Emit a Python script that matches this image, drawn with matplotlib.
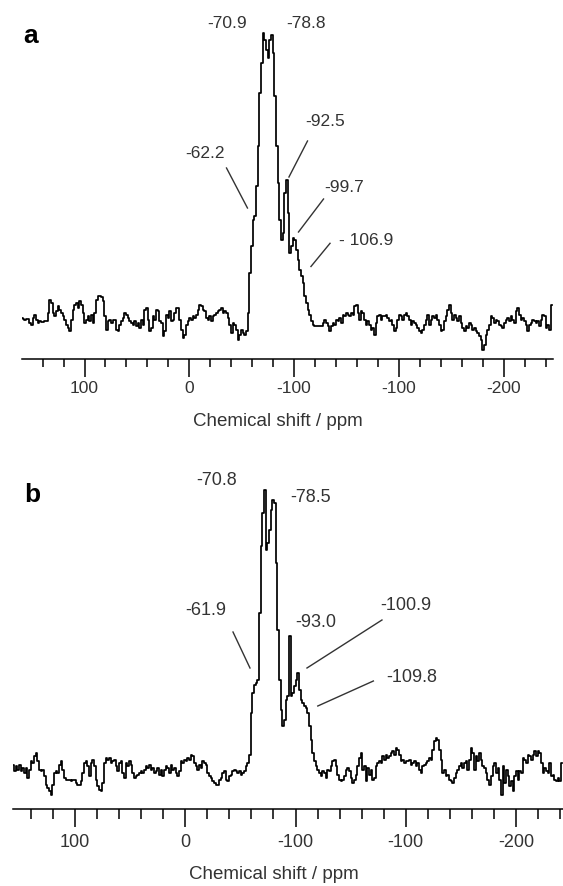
import numpy as np
import matplotlib
matplotlib.use("Agg")
import matplotlib.pyplot as plt
from matplotlib.ticker import FixedLocator, FixedFormatter

plt.rcParams['font.family'] = ['Liberation Sans', 'DejaVu Sans']

# axis ticks (ppm) and the labels exactly as printed on the original axis
major_ticks = [100, 0, -100, -200, -300]
major_labels = ["100", "0", "-100", "-100", "-200"]
minor_ticks = [140, 120, 80, 60, 40, 20, -20, -40, -60, -80, -120, -140, -160, -180,
               -220, -240, -260, -280, -320, -340]

# spectrum a: first/last chemical shift of the trace and the intensity
shift_span_a = (159.95, -345.8)
intensity_a = [
    41, 40, 39, 40, 40, 36, 34, 41, 44, 39,
    36, 38, 37, 37, 38, 38, 46, 59, 56, 46,
    43, 48, 53, 49, 46, 43, 39, 34, 31, 28,
    39, 49, 54, 56, 51, 58, 54, 46, 36, 39,
    43, 38, 44, 36, 46, 59, 63, 63, 62, 58,
    43, 29, 38, 39, 36, 39, 39, 29, 28, 34,
    38, 41, 46, 44, 41, 38, 36, 34, 38, 33,
    36, 31, 39, 34, 49, 51, 39, 28, 31, 43,
    39, 49, 48, 38, 36, 23, 28, 44, 41, 48,
    38, 39, 46, 51, 51, 39, 29, 21, 24, 34,
    38, 41, 39, 43, 41, 44, 49, 54, 53, 49,
    48, 41, 39, 43, 38, 43, 44, 46, 48, 49,
    51, 46, 48, 46, 41, 34, 26, 36, 34, 29,
    19, 24, 29, 26, 24, 28, 46,
    # main resonance
    86, 113, 139, 143, 173, 213, 266, 296, 326, 319,
    309, 301, 319, 324, 306, 263, 213, 176, 139, 119,
    126, 166, 179, 146, 106, 113, 121, 119, 109, 99,
    # right-hand side
    89, 83, 76, 63, 56, 49, 44, 38, 34, 33,
    33, 33, 33, 33, 36, 39, 36, 33, 28, 33,
    36, 34, 39, 38, 41, 36, 44, 43, 46, 44,
    43, 46, 44, 53, 54, 46, 39, 48, 46, 39,
    34, 38, 34, 29, 31, 24, 36, 43, 44, 39,
    43, 43, 44, 41, 38, 39, 34, 28, 31, 39,
    44, 43, 39, 44, 46, 43, 39, 34, 38, 36,
    34, 31, 28, 26, 29, 34, 39, 44, 34, 39,
    43, 41, 44, 39, 34, 28, 29, 38, 43, 49,
    54, 46, 39, 44, 41, 38, 43, 36, 31, 28,
    33, 31, 36, 34, 29, 31, 28, 26, 23, 19,
    9, 14, 24, 29, 34, 43, 41, 36, 39, 38,
    34, 33, 31, 36, 39, 41, 38, 43, 39, 36,
    48, 51, 44, 39, 41, 38, 34, 28, 34, 36,
    39, 38, 36, 38, 33, 39, 44, 43, 31, 34,
    29, 54,
]
peak_labels_a = ["-70.9", "-78.8", "-62.2", "-92.5", "-99.7", "- 106.9"]

# spectrum b
shift_span_b = (157.5, -341.4)
intensity_b = [
    39, 44, 38, 43, 39, 44, 38, 41, 36, 41,
    31, 39, 48, 46, 53, 56, 48, 39, 38, 39,
    33, 24, 21, 18, 14, 24, 36, 38, 36, 44,
    48, 39, 31, 29, 29, 29, 28, 29, 29, 26,
    24, 24, 28, 36, 46, 48, 43, 33, 46, 49,
    43, 29, 23, 19, 18, 26, 46, 51, 49, 51,
    46, 48, 49, 43, 38, 46, 48, 36, 31, 46,
    43, 48, 44, 36, 31, 33, 34, 36, 38, 36,
    39, 43, 41, 44, 39, 41, 36, 38, 41, 34,
    39, 33, 39, 43, 41, 36, 44, 39, 41, 36,
    33, 38, 48, 46, 49, 48, 51, 49, 54, 53,
    46, 43, 39, 44, 41, 48, 46, 44, 36, 33,
    31, 28, 26, 24, 24, 29, 31, 36, 38, 29,
    28, 33, 34, 38, 39, 38, 36, 38, 34, 36,
    38, 43, 46, 54,
    # main resonance
    96, 116, 124, 126, 129, 196, 263, 296, 319, 259,
    266, 279, 299, 309, 306, 246, 179, 129, 99, 83,
    89, 109, 113, 173, 113, 116, 123, 129, 136, 119,
    109, 106, 103, 101, 96, 83, 69, 56, 48, 43,
    39,
    # right-hand side
    36, 33, 38, 36, 31, 39, 38, 43, 48, 49,
    43, 34, 29, 28, 29, 33, 39, 41, 38, 31,
    26, 29, 34, 43, 51, 56, 39, 43, 28, 41,
    34, 39, 29, 31, 43, 46, 48, 46, 53, 49,
    54, 51, 53, 56, 58, 54, 61, 59, 54, 48,
    49, 46, 48, 48, 49, 44, 46, 48, 43, 46,
    39, 36, 43, 44, 46, 48, 51, 49, 59, 68,
    71, 69, 59, 49, 36, 39, 33, 34, 29, 28,
    26, 31, 36, 39, 43, 46, 41, 46, 48, 39,
    49, 61, 56, 39, 53, 48, 56, 49, 43, 41,
    36, 29, 24, 33, 43, 46, 36, 41, 29, 14,
    43, 26, 39, 33, 23, 28, 18, 33, 38, 29,
    38, 36, 51, 49, 46, 54, 53, 49, 54, 58,
    53, 58, 56, 46, 36, 41, 38, 36, 46, 33,
    34, 29, 28, 31, 28, 46,
]
peak_labels_b = ["-70.8", "-78.5", "-61.9", "-93.0", "-100.9", "-109.8"]

TEXT_COLOR = '#333333'


def style_axis(ax, xlim, ytop, tick_fs, minor_len, pad):
    ax.set_xlim(*xlim)
    ax.set_ylim(0, ytop)
    for side in ['left', 'right', 'top']:
        ax.spines[side].set_visible(False)
    ax.spines['bottom'].set_linewidth(1.1)
    ax.set_yticks([])
    ax.xaxis.set_major_locator(FixedLocator(major_ticks))
    ax.xaxis.set_major_formatter(FixedFormatter(major_labels))
    ax.xaxis.set_minor_locator(FixedLocator(minor_ticks))
    ax.tick_params(axis='x', which='major', direction='out', length=13, width=1.1,
                   labelsize=tick_fs, labelcolor=TEXT_COLOR, pad=pad)
    ax.tick_params(axis='x', which='minor', direction='out', length=minor_len, width=1.1)
    ax.patch.set_alpha(0)


def draw_panel(ax, span, intensity, labels, label_xy, leaders, fs):
    shift = np.linspace(span[0], span[1], len(intensity))
    ax.plot(shift, intensity, color='black', linewidth=1.25, drawstyle='steps-mid')
    for text, (x, y) in zip(labels, label_xy):
        ax.text(x, y, text, ha='center', va='baseline', fontsize=fs, color=TEXT_COLOR)
    for (x0, y0), (x1, y1) in leaders:
        ax.plot([x0, x1], [y0, y1], color=TEXT_COLOR, linewidth=1.0)


def main():
    fig = plt.figure(figsize=(5.63, 8.86), dpi=100)

    # panel a
    ax_a = fig.add_axes([0.03854, 0.59447, 0.94316, 0.37280])
    style_axis(ax_a, (159.95, -346.8), 330.3, 12.5, 5.8, 2.5)
    label_xy_a = [(-36.0, 331.3), (-111.4, 331.3), (-15.0, 201.3),
                  (-129.5, 233.3), (-147.6, 167.3), (-168.6, 114.3)]
    leaders_a = [((-35.5, 191.3), (-55.5, 151.3)),
                 ((-112.8, 218.3), (-95.1, 182.3)),
                 ((-128.1, 160.3), (-104.2, 127.3)),
                 ((-134.3, 116.0), (-116.1, 92.8))]
    draw_panel(ax_a, shift_span_a, intensity_a, peak_labels_a, label_xy_a, leaders_a, 12.5)

    # panel b
    ax_b = fig.add_axes([0.02256, 0.08657, 0.97744, 0.37167])
    style_axis(ax_b, (156.5, -342.6), 329.3, 13, 7.0, 5)
    label_xy_b = [(-28.8, 324.3), (-114.0, 307.3), (-18.8, 194.3),
                  (-118.5, 182.3), (-200.2, 199.3), (-205.7, 127.3)]
    leaders_b = [((-43.3, 177.3), (-58.7, 141.3)),
                 ((-178.4, 189.3), (-110.4, 141.3)),
                 ((-170.6, 128.3), (-120.2, 103.3))]
    draw_panel(ax_b, shift_span_b, intensity_b, peak_labels_b, label_xy_b, leaders_b, 13)

    # panel letters and axis titles
    fig.text(30.5 / 563, 1 - 43 / 886, "a", fontsize=19, fontweight='bold', ha='center', va='baseline')
    fig.text(32 / 563, 1 - 502 / 886, "b", fontsize=19, fontweight='bold', ha='center', va='baseline')
    fig.text(278 / 563, 1 - 426 / 886, "Chemical shift / ppm", fontsize=13.5,
             color=TEXT_COLOR, ha='center', va='baseline')
    fig.text(274 / 563, 1 - 879 / 886, "Chemical shift / ppm", fontsize=13.5,
             color=TEXT_COLOR, ha='center', va='baseline')

    fig.savefig("out.png", dpi=100, facecolor='white')


if __name__ == "__main__":
    main()
